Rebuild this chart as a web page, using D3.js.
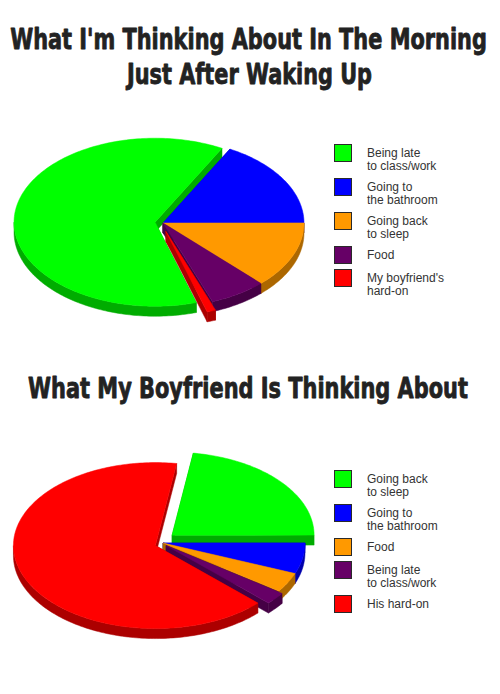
<!DOCTYPE html>
<html>
<head>
<meta charset="utf-8">
<script src="https://cdn.jsdelivr.net/npm/d3@7"></script>
<style>
  html, body { margin: 0; padding: 0; background: #fff; }
  svg { display: block; }
</style>
</head>
<body>
<script>
// ---------------- DATA ----------------
const colors = ["#00ff00", "#0000ff", "#ff9900", "#660066", "#ff0000"];

const chart1Title = ["What I'm Thinking About In The Morning", "Just After Waking Up"];
const chart1Labels = [["Being late", "to class/work"], ["Going to", "the bathroom"], ["Going back", "to sleep"], ["Food"], ["My boyfriend's", "hard-on"]];
const chart1Values = [62.6, 17.1, 12.8, 6.5, 1.0];
const chart1Explode = [8, 0, 0, 0, 9];

const chart2Title = ["What My Boyfriend Is Thinking About"];
const chart2Labels = [["Going back", "to sleep"], ["Going to", "the bathroom"], ["Food"], ["Being late", "to class/work"], ["His hard-on"]];
const chart2Values = [22.6, 6.0, 3.8, 2.4, 65.2];
const chart2Explode = [12, 0, 0, 4, 8];

// ---------------- LAYOUT ----------------
const W = 500, H = 694;
const svg = d3.select("body").append("svg").attr("width", W).attr("height", H);
svg.append("rect").attr("width", W).attr("height", H).attr("fill", "#fff");

const titleFont = "'DejaVu Sans Condensed', 'DejaVu Sans', sans-serif";

function drawTitle(lines, specs) {
  lines.forEach((t, i) => {
    const s = specs[i];
    const txt = svg.append("text")
      .attr("x", 0).attr("y", 0)
      .attr("text-anchor", "middle")
      .attr("font-family", titleFont).attr("font-weight", "bold")
      .attr("font-size", 28).attr("fill", "#222")
      .attr("stroke", "#222").attr("stroke-width", 0.8)
      .attr("stroke-linejoin", "round")
      .text(t);
    const natural = txt.node().getComputedTextLength();
    const sx = s.w / natural;
    txt.attr("transform", `translate(${s.cx},${s.y}) scale(${sx},1)`);
  });
}

function draw3DPie(cfg) {
  const { values, explode, cx, cy, rx, ry, depth, start } = cfg;
  const g = svg.append("g");
  const arcs = d3.pie().sort(null).value(d => d)
    .startAngle(start).endAngle(start + 2 * Math.PI)(values);

  const slices = arcs.map((a, i) => {
    const mid = (a.startAngle + a.endAngle) / 2;
    const e = explode[i];
    return {
      i, a0: a.startAngle, a1: a.endAngle,
      c: [cx + e * Math.sin(mid), cy - e * Math.cos(mid)],
      color: colors[i],
      side: d3.color(colors[i]).darker(1.1).formatHex()
    };
  });
  const pt = (c, a, dz = 0) => [c[0] + rx * Math.sin(a), c[1] - ry * Math.cos(a) + dz];
  const line = d3.line();
  const sample = (c, a0, a1, dz) => {
    const n = Math.max(2, Math.ceil(Math.abs(a1 - a0) / 0.02));
    return d3.range(n + 1).map(k => pt(c, a0 + (a1 - a0) * k / n, dz));
  };

  // radial walls
  const radial = [];
  slices.forEach(s => {
    [s.a0, s.a1].forEach(a => {
      const p = pt(s.c, a);
      radial.push({ s, pts: [s.c, p, [p[0], p[1] + depth], [s.c[0], s.c[1] + depth]], y: (s.c[1] + p[1]) / 2 });
    });
  });
  radial.sort((u, v) => u.y - v.y);
  g.selectAll(".radial").data(radial).join("path")
    .attr("d", d => line(d.pts) + "Z")
    .attr("fill", d => d.s.side).attr("stroke", d => d.s.side).attr("stroke-width", 0.5);

  // outer walls (front half only)
  const outer = [];
  slices.forEach(s => {
    for (let k = -1; k <= 2; k++) {
      const f0 = Math.PI / 2 + 2 * Math.PI * k, f1 = 3 * Math.PI / 2 + 2 * Math.PI * k;
      const lo = Math.max(s.a0, f0), hi = Math.min(s.a1, f1);
      if (hi > lo) {
        const topPts = sample(s.c, lo, hi, 0);
        const botPts = sample(s.c, hi, lo, depth);
        outer.push({ s, pts: topPts.concat(botPts) });
      }
    }
  });
  g.selectAll(".outer").data(outer).join("path")
    .attr("d", d => line(d.pts) + "Z")
    .attr("fill", d => d.s.side).attr("stroke", d => d.s.side).attr("stroke-width", 0.5);

  // tops
  g.selectAll(".top").data(slices).join("path")
    .attr("d", s => line([s.c].concat(sample(s.c, s.a0, s.a1, 0))) + "Z")
    .attr("fill", s => s.color).attr("stroke", s => s.color).attr("stroke-width", 0.5);
}

function drawLegend(labels, x0, y0) {
  let y = y0;
  labels.forEach((lines, i) => {
    svg.append("rect").attr("x", x0 + 0.5).attr("y", y + 0.5).attr("width", 17).attr("height", 17)
      .attr("fill", colors[i]).attr("stroke", "#2a2a2a").attr("stroke-width", 1);
    const t = svg.append("text").attr("x", x0 + 33).attr("y", y + 13)
      .attr("font-family", "'Liberation Sans', Arial, sans-serif").attr("font-size", 12).attr("fill", "#333");
    lines.forEach((l, j) => t.append("tspan").attr("x", x0 + 33).attr("dy", j === 0 ? 0 : 12.5).text(l));
    y += 23 + 11 * (lines.length - 1);
  });
}

// Chart 1
drawTitle(chart1Title, [{ cx: 248.5, y: 49, w: 477 }, { cx: 249.5, y: 84, w: 245 }]);
draw3DPie({ values: chart1Values, explode: chart1Explode, cx: 163, cy: 223, rx: 141, ry: 84, depth: 10,
  start: 163 * Math.PI / 180 });
drawLegend(chart1Labels, 334, 144);

// Chart 2
drawTitle(chart2Title, [{ cx: 248, y: 398, w: 440 }]);
draw3DPie({ values: chart2Values, explode: chart2Explode, cx: 163, cy: 543, rx: 142, ry: 83, depth: 10,
  start: 8.6 * Math.PI / 180 });
drawLegend(chart2Labels, 334, 470);
</script>
</body>
</html>
